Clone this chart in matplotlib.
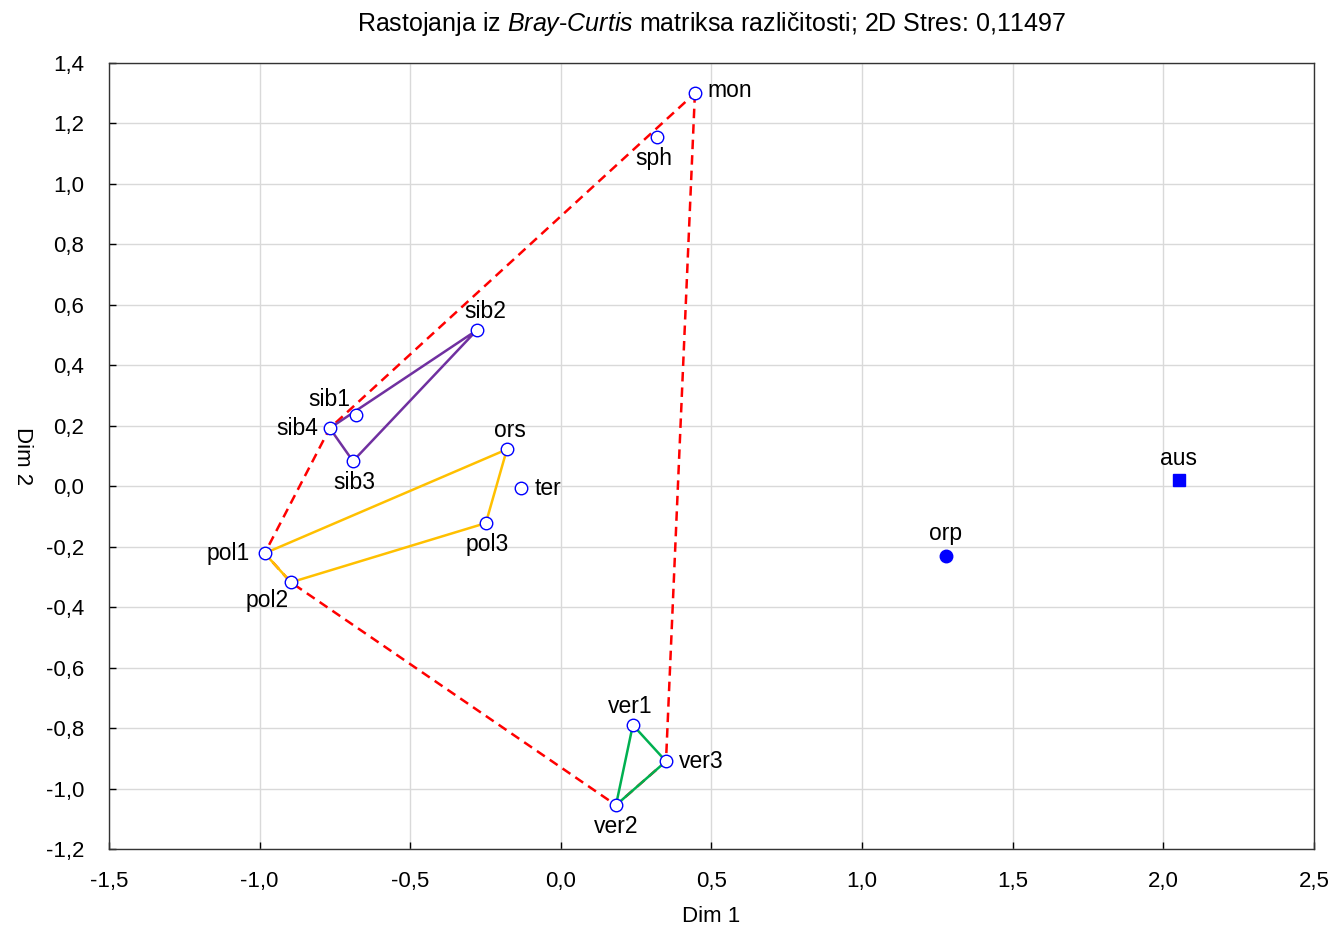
import matplotlib
matplotlib.use("Agg")
import matplotlib.pyplot as plt
from matplotlib.ticker import FuncFormatter, MultipleLocator

plt.rcParams['font.family'] = ['Liberation Sans', 'DejaVu Sans']
plt.rcParams['mathtext.fontset'] = 'custom'
plt.rcParams['mathtext.rm'] = 'Liberation Sans'
plt.rcParams['mathtext.it'] = 'Liberation Sans:italic'

# NMDS coordinates (Dim 1, Dim 2)
names = ['mon', 'sph', 'sib2', 'sib1', 'sib4', 'sib3', 'ors', 'ter',
         'pol3', 'pol1', 'pol2', 'ver1', 'ver3', 'ver2']
dim1 = [0.445, 0.319, -0.279, -0.680, -0.767, -0.690, -0.179, -0.133,
        -0.249, -0.983, -0.896, 0.239, 0.349, 0.183]
dim2 = [1.300, 1.154, 0.516, 0.235, 0.192, 0.083, 0.122, -0.007,
        -0.122, -0.222, -0.318, -0.790, -0.910, -1.055]

# outgroups
orp = (1.278, -0.232)
aus = (2.051, 0.020)

# polygons (by name, closed)
hull_all = ['mon', 'ver3', 'ver2', 'pol2', 'pol1', 'sib4', 'mon']
hull_sib = ['sib4', 'sib2', 'sib3', 'sib4']
hull_pol = ['pol1', 'ors', 'pol3', 'pol2', 'pol1']
hull_ver = ['ver1', 'ver3', 'ver2', 'ver1']

# label offsets in points (dx, dy, ha, va)
label_pos = {
    'mon': (9, 2, 'left', 'center'),
    'sph': (-2, -7, 'center', 'top'),
    'sib2': (6, 5, 'center', 'bottom'),
    'sib1': (-4, 3, 'right', 'bottom'),
    'sib4': (-8, 0, 'right', 'center'),
    'sib3': (1, -7, 'center', 'top'),
    'ors': (2, 5, 'center', 'bottom'),
    'ter': (10, 0, 'left', 'center'),
    'pol3': (1, -7, 'center', 'top'),
    'pol1': (-11, 0, 'right', 'center'),
    'pol2': (-17, -5, 'center', 'top'),
    'ver1': (-2, 5, 'center', 'bottom'),
    'ver3': (9, 0, 'left', 'center'),
    'ver2': (0, -7, 'center', 'top'),
}

xy = {n: (x, y) for n, x, y in zip(names, dim1, dim2)}


def draw_poly(ax, seq, **kw):
    xs = [xy[n][0] for n in seq]
    ys = [xy[n][1] for n in seq]
    ax.plot(xs, ys, zorder=2, **kw)


fig = plt.figure(figsize=(13.35, 9.25), dpi=100)
ax = fig.add_axes([0.0816, 0.0822, 0.9027, 0.8497])

draw_poly(ax, hull_all, color='#ff0000', ls=(0, (3.8, 2.4)), lw=1.8)
draw_poly(ax, hull_sib, color='#7030a0', lw=1.8)
draw_poly(ax, hull_pol, color='#ffc000', lw=1.8)
draw_poly(ax, hull_ver, color='#00b050', lw=1.8)

ax.plot(dim1, dim2, 'o', ms=9, mfc='white', mec='#0000ff', mew=1.0,
        ls='none', zorder=3)
ax.plot(*orp, 'o', ms=9, color='#0000ff', zorder=3)
ax.plot(*aus, 's', ms=8.5, color='#0000ff', zorder=3)

fs = 16.5
for n in names:
    dx, dy, ha, va = label_pos[n]
    ax.annotate(n, xy[n], xytext=(dx, dy), textcoords='offset points',
                ha=ha, va=va, fontsize=fs, zorder=4)
ax.annotate('orp', orp, xytext=(0, 8), textcoords='offset points',
            ha='center', va='bottom', fontsize=fs)
ax.annotate('aus', aus, xytext=(0, 7), textcoords='offset points',
            ha='center', va='bottom', fontsize=fs)

ax.set_xlim(-1.5, 2.5)
ax.set_ylim(-1.2, 1.4)
ax.xaxis.set_major_locator(MultipleLocator(0.5))
ax.yaxis.set_major_locator(MultipleLocator(0.2))
comma = FuncFormatter(lambda v, p: f'{v:.1f}'.replace('.', ',').replace('-0,0', '0,0'))
ax.xaxis.set_major_formatter(comma)
ax.yaxis.set_major_formatter(comma)
ax.tick_params(direction='in', length=5, width=1, labelsize=16)
ax.tick_params(axis='x', pad=16)
ax.tick_params(axis='y', pad=18)
ax.grid(True, color='#d9d9d9', lw=1)
ax.set_axisbelow(True)
for s in ax.spines.values():
    s.set_color('#333333')
    s.set_linewidth(1)

ax.set_xlabel('Dim 1', fontsize=16, labelpad=10)
ax.set_ylabel('Dim 2', fontsize=16, rotation=-90, labelpad=24)
ax.set_title('Rastojanja iz $\\mathit{Bray}$-$\\mathit{Curtis}$ matriksa različitosti; 2D Stres: 0,11497',
             fontsize=18, pad=23)

fig.savefig('out.png', dpi=100)
